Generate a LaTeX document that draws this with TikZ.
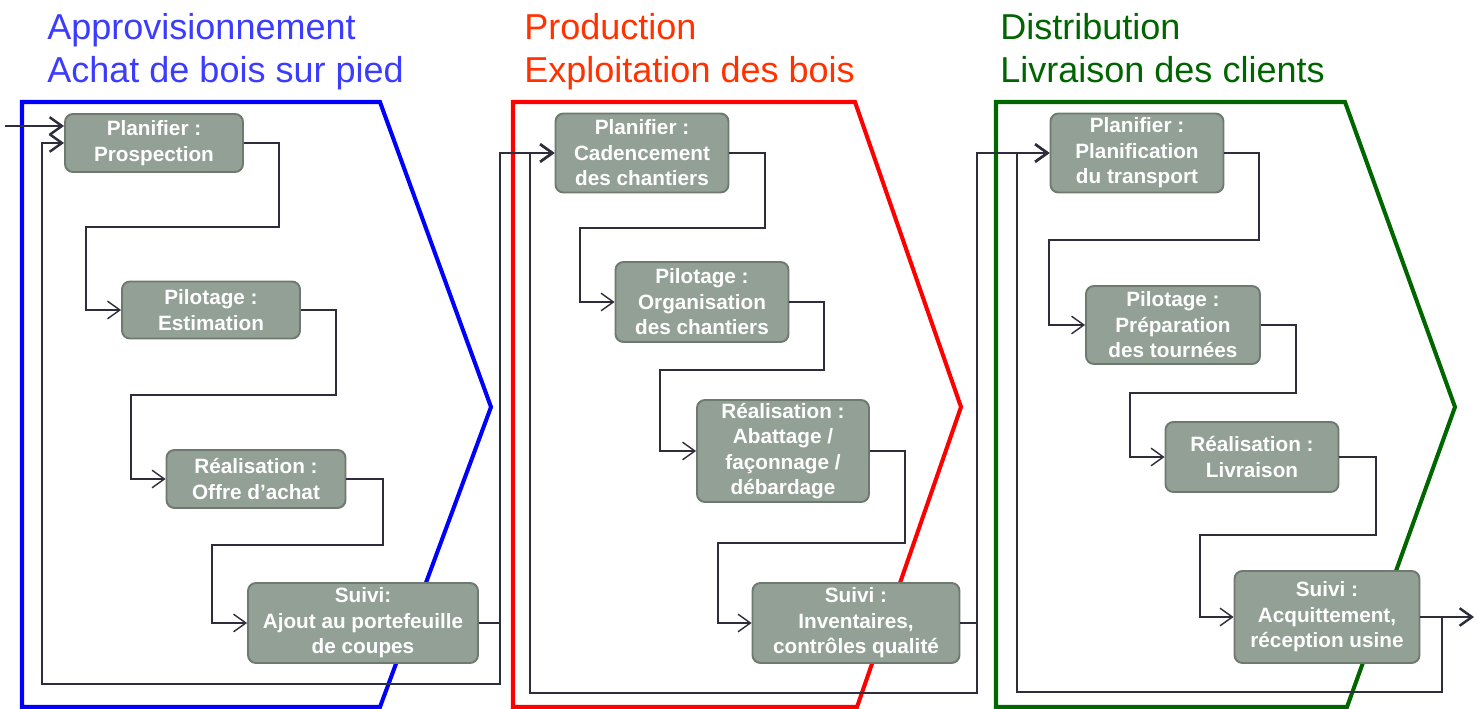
\documentclass[tikz,border=0pt]{standalone}
\usepackage{fontspec}
\setmainfont{Liberation Sans}
\usepackage{xcolor}
\usetikzlibrary{arrows.meta,positioning}
\definecolor{supplyblue}{RGB}{0,0,255}
\definecolor{prodred}{RGB}{255,0,0}
\definecolor{distgreen}{RGB}{0,102,0}
\definecolor{titleblue}{RGB}{60,60,255}
\definecolor{titlered}{RGB}{255,50,0}
\definecolor{titlegreen}{RGB}{0,100,0}
\definecolor{boxgray}{RGB}{146,160,150}
\definecolor{boxedge}{RGB}{110,122,112}
\definecolor{linkdark}{RGB}{45,45,60}

\begin{document}
\begin{tikzpicture}[x=0.02cm, y=-0.02cm,
  stepbox/.style={draw=boxedge, fill=boxgray, line width=1.1pt,
    rounded corners=4.5pt, text=white, align=center, inner sep=0pt,
    font=\bfseries\fontsize{11.8}{14.5}\selectfont},
  flow/.style={draw=linkdark, line width=0.8pt,
    -{Straight Barb[length=7pt,width=10pt]}},
  link/.style={flow, line width=1.4pt},
  chevron/.style={line width=2.3pt, line join=miter},
  phasetitle/.style={anchor=base west, align=left, inner sep=0pt,
    font=\fontsize{20.5}{25}\selectfont}]

\useasboundingbox (0,0) rectangle (1478,709);

%% ── PHASE OUTLINES ─────────────────────────────────────────────────────
\draw[chevron, supplyblue] (22,102) -- (380,102) -- (491,407) -- (380,707) -- (22,707) -- cycle;
\draw[chevron, prodred]    (513,102) -- (855,102) -- (961,407) -- (857,707) -- (513,707) -- cycle;
\draw[chevron, distgreen]  (996,102) -- (1345,102) -- (1455,407) -- (1347,707) -- (996,707) -- cycle;

%% ── PHASE TITLES (base = second line) ──────────────────────────────────
\node[phasetitle, text=titleblue]  (tsupply) at (47,83)   {Approvisionnement\\Achat de bois sur pied};
\node[phasetitle, text=titlered]   (tprod)   at (524,83)  {Production\\Exploitation des bois};
\node[phasetitle, text=titlegreen] (tdist)   at (1000,83) {Distribution\\Livraison des clients};

%% ── STEP BOXES ─────────────────────────────────────────────────────────
% Approvisionnement
\node[stepbox, minimum width=3.56cm, minimum height=1.16cm] (B1) at (154,143) {Planifier :\\Prospection};
\node[stepbox, minimum width=3.56cm, minimum height=1.14cm] (B2) at (211,310) {Pilotage :\\Estimation};
\node[stepbox, minimum width=3.58cm, minimum height=1.16cm] (B3) at (256,479) {Réalisation :\\Offre d’achat};
\node[stepbox, minimum width=4.60cm, minimum height=1.60cm] (B4) at (363,623) {Suivi:\\Ajout au portefeuille\\de coupes};
% Production
\node[stepbox, minimum width=3.46cm, minimum height=1.58cm] (R1) at (642,153) {Planifier :\\Cadencement\\des chantiers};
\node[stepbox, minimum width=3.46cm, minimum height=1.60cm] (R2) at (702,302) {Pilotage :\\Organisation\\des chantiers};
\node[stepbox, minimum width=3.44cm, minimum height=2.04cm] (R3) at (783,451) {Réalisation :\\Abattage /\\façonnage /\\débardage};
\node[stepbox, minimum width=4.14cm, minimum height=1.60cm] (R4) at (856,623) {Suivi :\\Inventaires,\\contrôles qualité};
% Distribution
\node[stepbox, minimum width=3.46cm, minimum height=1.58cm] (G1) at (1137,153) {Planifier :\\Planification\\du transport};
\node[stepbox, minimum width=3.48cm, minimum height=1.56cm] (G2) at (1173,325) {Pilotage :\\Préparation\\des tournées};
\node[stepbox, minimum width=3.46cm, minimum height=1.40cm] (G3) at (1252,457) {Réalisation :\\Livraison};
\node[stepbox, minimum width=3.70cm, minimum height=1.84cm] (G4) at (1327,617) {Suivi :\\Acquittement,\\réception usine};

%% ── STEP CONNECTORS (staircase) ────────────────────────────────────────
\foreach \a/\b/\xr/\ym/\xl in {
    B1/B2/279/227/86,    B2/B3/336/395/131,   B3/B4/383/545/212,
    R1/R2/765/228/580,   R2/R3/824/370/660,   R3/R4/905/543/718,
    G1/G2/1259/240/1049, G2/G3/1296/393/1130, G3/G4/1376/535/1200}{
  \draw[flow] (\a.east) -| (\xr,\ym) -- (\xl,\ym) |- (\b.west);
}

%% ── LOOPS AND HAND-OVERS ───────────────────────────────────────────────
\coordinate (start) at (5,126);
\coordinate (jB) at (500,623);
\coordinate (jR) at (977,623);
\coordinate (jG) at (1442,617);
\coordinate (finish) at (1474,617);

\draw[link] (start) -- (B1.west |- start);
% Approvisionnement -> Production, and back
\draw[link] (B4.east) -- (jB) |- (R1.west);
\draw[link] (jB) |- (42,684) |- (B1.west);
% Production -> Distribution, and back
\draw[link] (R4.east) -- (jR) |- (G1.west);
\draw[link] (jR) |- (530,693) |- (R1.west);
% Distribution -> out, and back
\draw[link] (G4.east) -- (jG) -- (finish);
\draw[link] (jG) |- (1017,692) |- (G1.west);

\end{tikzpicture}
\end{document}
